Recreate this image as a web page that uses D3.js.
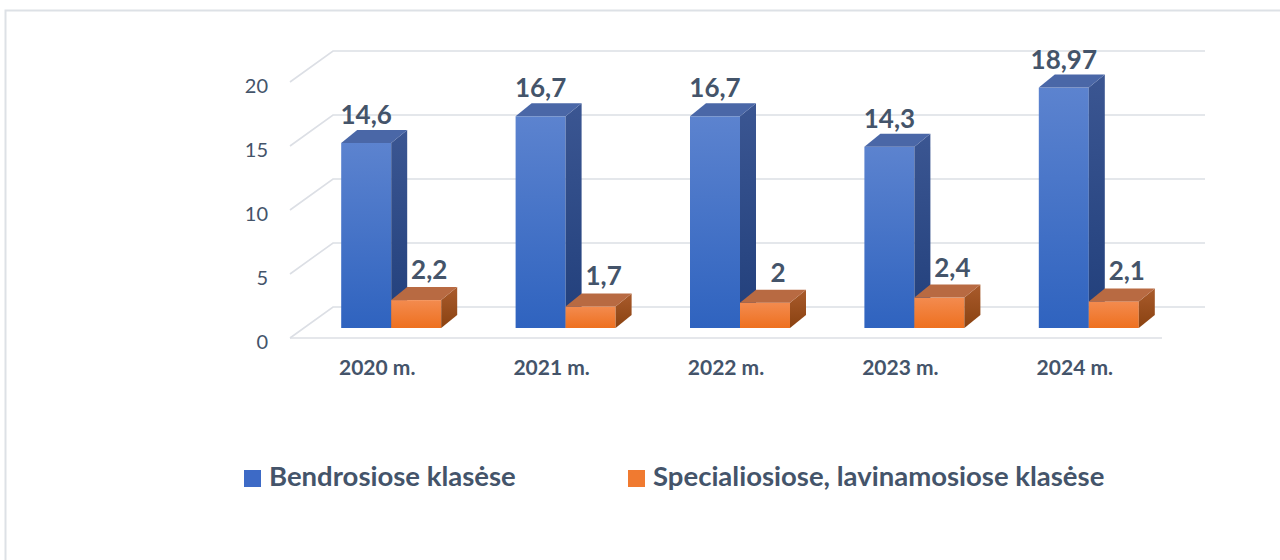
<!DOCTYPE html>
<html>
<head>
<meta charset="utf-8">
<script src="https://cdn.jsdelivr.net/npm/d3@7/dist/d3.min.js"></script>
<style>
  html, body { margin: 0; padding: 0; background: #ffffff; }
  svg { display: block; }
  text { font-family: Lato, "Open Sans", sans-serif; fill: #44546a; }
</style>
</head>
<body>
<svg id="chart" width="1280" height="560"></svg>
<script>
// ---- data ----
const categories = ["2020 m.", "2021 m.", "2022 m.", "2023 m.", "2024 m."];
const seriesNames = ["Bendrosiose klasėse", "Specialiosiose, lavinamosiose klasėse"];
const generalValues = [14.6, 16.7, 16.7, 14.3, 18.97];
const specialValues = [2.2, 1.7, 2, 2.4, 2.1];
const yTicks = [0, 5, 10, 15, 20];

// ---- layout ----
const svg = d3.select("#chart");
const floorX0 = 290, floorX1 = 1162, floorY = 338;
const wallDepth = { dx: 43, dy: -31 };
const barOffset = { dx: 14, dy: -10 };
const barDepth = { dx: 16, dy: -13 };

const x = d3.scaleBand().domain(categories).range([floorX0, floorX1]).paddingInner(0);
const xSub = d3.scaleBand().domain(seriesNames).range([0, x.bandwidth()]).paddingInner(0).paddingOuter(0.744);
const yFront = d3.scaleLinear().domain([0, 20]).range([floorY, 82]);
const yBar = d3.scaleLinear().domain([0, 20]).range([floorY + barOffset.dy, 74.5]);

const fmt = v => String(v).replace(".", ",");

// outer border
svg.append("rect").attr("x", 5.5).attr("y", 10.5).attr("width", 1300).attr("height", 600)
  .attr("fill", "none").attr("stroke", "#dde1e6").attr("stroke-width", 2);

// gradients
const defs = svg.append("defs");
function grad(id, c1, c2) {
  const g = defs.append("linearGradient").attr("id", id).attr("x1", 0).attr("y1", 0).attr("x2", 0).attr("y2", 1);
  g.append("stop").attr("offset", "0%").attr("stop-color", c1);
  g.append("stop").attr("offset", "100%").attr("stop-color", c2);
}
grad("blueFront", "#5c83cf", "#2f63bf");
grad("blueSide", "#3b5692", "#213f7b");
grad("orangeFront", "#f38b4f", "#ee701f");
grad("orangeSide", "#a95b2c", "#8a4211");

const styles = [
  { front: "url(#blueFront)", side: "url(#blueSide)", top: "#4a67a7", legend: "#3d6ac6" },
  { front: "url(#orangeFront)", side: "url(#orangeSide)", top: "#b86a42", legend: "#f07a30" }
];

// gridlines (side wall + back wall)
const grid = svg.append("g").attr("stroke", "#dcdfe5").attr("stroke-width", 1.6).attr("fill", "none");
yTicks.forEach(t => {
  const yf = yFront(t), yb = yf + wallDepth.dy;
  grid.append("path").attr("d", `M${floorX0},${yf}L${floorX0 + wallDepth.dx},${yb}L${floorX1 + wallDepth.dx},${yb}`);
});
grid.append("line").attr("x1", floorX0).attr("x2", floorX1).attr("y1", floorY).attr("y2", floorY);

// y tick labels
svg.append("g").selectAll("text").data(yTicks).join("text")
  .attr("x", 268).attr("y", d => yFront(d) + 3)
  .attr("text-anchor", "end").attr("dominant-baseline", "central")
  .attr("font-size", 20).text(d => d);

// bars
const seriesData = [generalValues, specialValues];
const barsG = svg.append("g");
categories.forEach((c, i) => {
  seriesData.forEach((vals, s) => {
    const v = vals[i];
    const name = seriesNames[s];
    const xl = x(c) + xSub(name) + barOffset.dx;
    const xr = xl + xSub.bandwidth();
    const yt = yBar(v), yb = yBar(0);
    const st = styles[s];
    const g = barsG.append("g");
    // front
    g.append("rect").attr("x", xl).attr("y", yt).attr("width", xr - xl).attr("height", yb - yt).attr("fill", st.front);
    // side
    g.append("path").attr("d", `M${xr},${yt}L${xr + barDepth.dx},${yt + barDepth.dy}L${xr + barDepth.dx},${yb + barDepth.dy}L${xr},${yb}Z`).attr("fill", st.side);
    // top
    g.append("path").attr("d", `M${xl},${yt}L${xl + barDepth.dx},${yt + barDepth.dy}L${xr + barDepth.dx},${yt + barDepth.dy}L${xr},${yt}Z`).attr("fill", st.top);
    // label
    const cx = (xl + xr) / 2 + (s === 0 ? 0 : 13);
    const ly = yt + barDepth.dy - (s === 0 ? 6 : 8);
    svg.append("text").attr("x", cx).attr("y", ly).attr("text-anchor", "middle")
      .attr("font-size", 26).attr("font-weight", 700).text(fmt(v));
  });
});

// category labels
svg.append("g").selectAll("text").data(categories).join("text")
  .attr("x", d => x(d) + x.bandwidth() / 2).attr("y", 375)
  .attr("text-anchor", "middle").attr("font-size", 21).attr("font-weight", 700).text(d => d);

// legend
const legendX = [244, 628];
const lg = svg.append("g");
seriesNames.forEach((n, i) => {
  lg.append("rect").attr("x", legendX[i]).attr("y", 470).attr("width", 17).attr("height", 17).attr("fill", styles[i].legend);
  lg.append("text").attr("x", legendX[i] + 25).attr("y", 486).attr("font-size", 27.5).attr("font-weight", 700).text(n);
});
</script>
</body>
</html>
